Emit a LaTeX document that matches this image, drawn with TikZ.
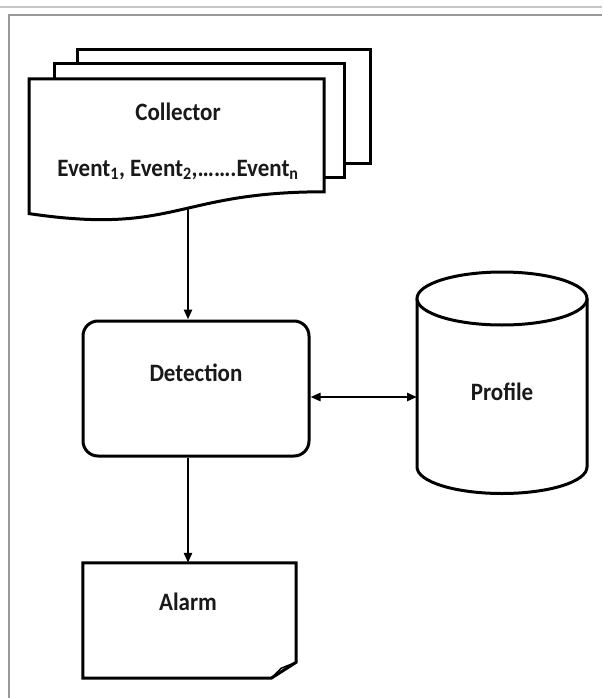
\documentclass[tikz,border=0pt]{standalone}
\usepackage{fontspec}
\setmainfont{Carlito}
\usetikzlibrary{arrows.meta}
\newcommand\narrowtxt[1]{\scalebox{0.92}[1]{#1}}
\begin{document}
\begin{tikzpicture}[x=1pt,y=-1pt,
  shp/.style={line width=3pt, line join=miter, draw=black, fill=white},
  arr/.style={line width=2.5pt, -{Triangle[length=10pt,width=8pt]}},
  darr/.style={line width=2.5pt, {Triangle[length=10pt,width=8pt]}-{Triangle[length=10pt,width=8pt]}},
  lbl/.style={font=\fontsize{25}{30}\selectfont\bfseries, text=black!90, inner sep=0pt}]
\useasboundingbox (0,0) rectangle (602,698);
\fill[white] (0,0) rectangle (602,698);
% window frame
\draw[gray!45, line width=2pt] (0,7) -- (602,7);
\draw[gray!80, line width=1.5pt] (602,15) -- (9,15) -- (9,698);
% collector stack
\draw[shp] (77,50) rectangle (370,163);
\draw[shp] (54,64) rectangle (344,177);
\draw[shp] (29,213.6) -- (29,79) -- (324,79) -- (324,191.8)
   .. controls (175.8,191.8) and (175.8,235.3) .. (29,213.6) -- cycle;
\node[lbl] (coll) at (178,112) {\narrowtxt{Collector}};
\node[lbl] (events) at (178,170) {\narrowtxt{Event\textsubscript{1}, Event\textsubscript{2},…….Event\textsubscript{n}}};
\coordinate (wave) at (188,208.3);
% detection
\node[shp, rounded corners=15pt, minimum width=226pt, minimum height=135pt, inner sep=0pt] (det) at (196,388.5) {};
\node[lbl] (dett) at (196,373) {\narrowtxt{Detection}};
% profile cylinder
\fill[white] (417,298.5) rectangle (587,467);
\draw[line width=3pt] (417,298.5) -- (417,467)
   .. controls (417,481.64) and (455.05,493.5) .. (502,493.5)
   .. controls (548.95,493.5) and (587,481.64) .. (587,467) -- (587,298.5);
\draw[shp] (502,298.5) ellipse [x radius=85, y radius=26.5];
\node[lbl] (prof) at (502,392) {\narrowtxt{Profile}};
\coordinate (cylL) at (417,397);
% alarm
\node[minimum width=213pt, minimum height=115pt, inner sep=0pt] (alarm) at (189.5,620.5) {};
\draw[shp] (alarm.north west) -- (alarm.north east) -- ([yshift=16pt]alarm.south east)
   -- ([xshift=-25pt]alarm.south east) -- (alarm.south west) -- cycle;
\draw[line width=1.5pt, line join=round] ([yshift=16pt]alarm.south east) -- ([xshift=-15pt,yshift=10pt]alarm.south east) -- ([xshift=-25pt]alarm.south east);
\node[lbl] (alt) at (188,602) {\narrowtxt{Alarm}};
% connectors
\draw[arr] (wave) -- (wave |- det.north);
\draw[arr] (wave |- det.south) -- (wave |- alarm.north);
\draw[darr] (det.east |- cylL) -- (cylL);
\end{tikzpicture}
\end{document}
